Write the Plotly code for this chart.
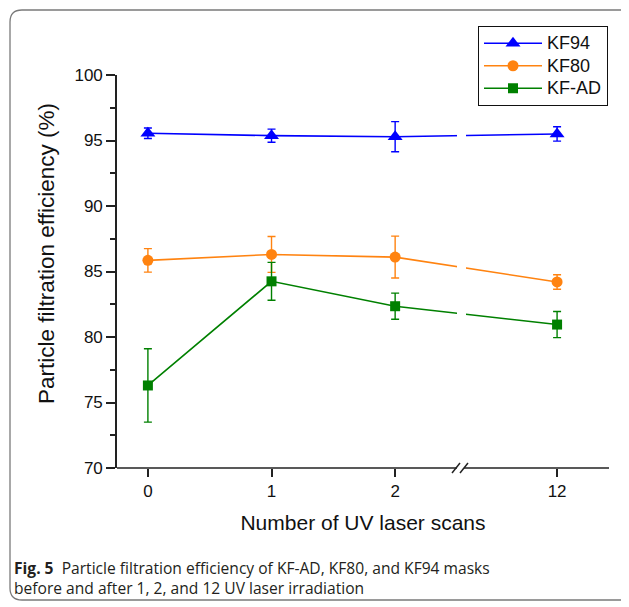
import plotly.graph_objects as go

# ---- data ----
scans = [0, 1, 2, 12]
scan_labels = ["0", "1", "2", "12"]
kf94 = [95.55, 95.37, 95.29, 95.5]
kf94_err = [0.4, 0.5, 1.15, 0.55]
kf80 = [85.85, 86.3, 86.1, 84.2]
kf80_err = [0.9, 1.37, 1.6, 0.55]
kfad = [76.3, 84.25, 82.35, 80.95]
kfad_err = [2.8, 1.45, 1.0, 1.0]

# broken x axis: values beyond the break (after 2) are drawn compressed
BREAK_AT = 2
AFTER_BREAK_POS = 3.31


def axis_pos(v):
    return v if v <= BREAK_AT else AFTER_BREAK_POS


xpos = [axis_pos(v) for v in scans]

OFF = 8  # page body margin
W, H = 621, 599
L, R, T, B = 109, 20, 67, 139
PW, PH = W - L - R, H - T - B


def px(x):  # page pixel -> paper
    return (x - OFF - L) / PW


def py(y):
    return (H - B - (y - OFF)) / PH


FONT = "Liberation Sans, Arial, sans-serif"

fig = go.Figure()

series = [
    ("KF94", kf94, kf94_err, "#0000FF", "triangle-up", 13),
    ("KF80", kf80, kf80_err, "#FF8310", "circle", 11),
    ("KF-AD", kfad, kfad_err, "#008000", "square", 10),
]
for name, y, e, col, sym, sz in series:
    fig.add_trace(go.Scatter(
        x=xpos, y=y, name=f'<span style="font-size:18px">{name}</span>',
        mode="lines+markers",
        line=dict(color=col, width=1.6),
        marker=dict(symbol=sym, size=sz, color=col),
        error_y=dict(type="data", array=e, visible=True, color=col,
                     thickness=1.4, width=4),
    ))

shapes = []
# gap in data lines at the axis break
shapes.append(dict(type="rect", xref="paper", yref="paper",
                   x0=px(457), x1=px(466), y0=py(455), y1=py(80),
                   fillcolor="white", line=dict(width=0), layer="above"))
# x axis line with break
axis_col = "#222222"
shapes.append(dict(type="line", xref="paper", yref="paper",
                   x0=px(117), x1=px(457), y0=0, y1=0,
                   line=dict(color=axis_col, width=1.6), layer="above"))
shapes.append(dict(type="line", xref="paper", yref="paper",
                   x0=px(464), x1=px(609), y0=0, y1=0,
                   line=dict(color=axis_col, width=1.6), layer="above"))
for dx in (0, 8):
    shapes.append(dict(type="line", xref="paper", yref="paper",
                       x0=px(452 + dx), x1=px(460 + dx), y0=py(473), y1=py(463),
                       line=dict(color=axis_col, width=1.5), layer="above"))
# outer rounded frame
x0, y0, x1, y1, r = 10, 10, 640, 600, 12
path = (f"M {px(x0 + r)},{py(y0)} L {px(x1 - r)},{py(y0)} "
        f"Q {px(x1)},{py(y0)} {px(x1)},{py(y0 + r)} "
        f"L {px(x1)},{py(y1 - r)} Q {px(x1)},{py(y1)} {px(x1 - r)},{py(y1)} "
        f"L {px(x0 + r)},{py(y1)} Q {px(x0)},{py(y1)} {px(x0)},{py(y1 - r)} "
        f"L {px(x0)},{py(y0 + r)} Q {px(x0)},{py(y0)} {px(x0 + r)},{py(y0)} Z")
shapes.append(dict(type="path", xref="paper", yref="paper", path=path,
                   line=dict(color="#7a7a7a", width=1.3), layer="below"))

annotations = [
    dict(text="<b>Fig. 5</b>  Particle filtration efficiency of KF-AD, KF80, and KF94 masks"
              "<br>before and after 1, 2, and 12 UV laser irradiation",
         xref="paper", yref="paper", x=px(12), y=py(555), xanchor="left", yanchor="top",
         align="left", showarrow=False,
         font=dict(family="Open Sans, Noto Sans, sans-serif", size=15.6, color="#231f20")),
    dict(text="Particle filtration efficiency (%)",
         xref="paper", yref="paper", x=px(46), y=py(254), xanchor="center", yanchor="middle",
         textangle=-90, showarrow=False,
         font=dict(family=FONT, size=22.5, color="#111111")),
]

fig.update_layout(
    width=W, height=H,
    margin=dict(l=L, r=R, t=T, b=B, pad=0),
    paper_bgcolor="white", plot_bgcolor="white",
    font=dict(family=FONT, color="#111111"),
    showlegend=True,
    legend=dict(x=px(478), y=py(26), xanchor="left", yanchor="top",
                bordercolor="#111111", borderwidth=1, bgcolor="white",
                font=dict(family=FONT, size=15, color="#111111"),
                tracegroupgap=0, itemwidth=58),
    xaxis=dict(range=[-0.25, 3.73], tickvals=xpos, ticktext=scan_labels,
               showgrid=False, zeroline=False, showline=False,
               ticks="outside", ticklen=8, tickwidth=1.5, tickcolor=axis_col,
               tickfont=dict(family=FONT, size=17, color="#111111"),
               title=dict(text="Number of UV laser scans", standoff=14,
                          font=dict(family=FONT, size=21, color="#111111"))),
    yaxis=dict(range=[70, 100], tickvals=[70, 75, 80, 85, 90, 95, 100],
               showgrid=False, zeroline=False, showline=True,
               linecolor=axis_col, linewidth=1.6,
               ticks="outside", ticklen=9, tickwidth=1.5, tickcolor=axis_col,
               minor=dict(dtick=2.5, ticks="outside", ticklen=5, tickwidth=1.5,
                          tickcolor=axis_col, showgrid=False),
               tickfont=dict(family=FONT, size=17, color="#111111")),
    shapes=shapes,
    annotations=annotations,
)

fig.write_html("out.html")
